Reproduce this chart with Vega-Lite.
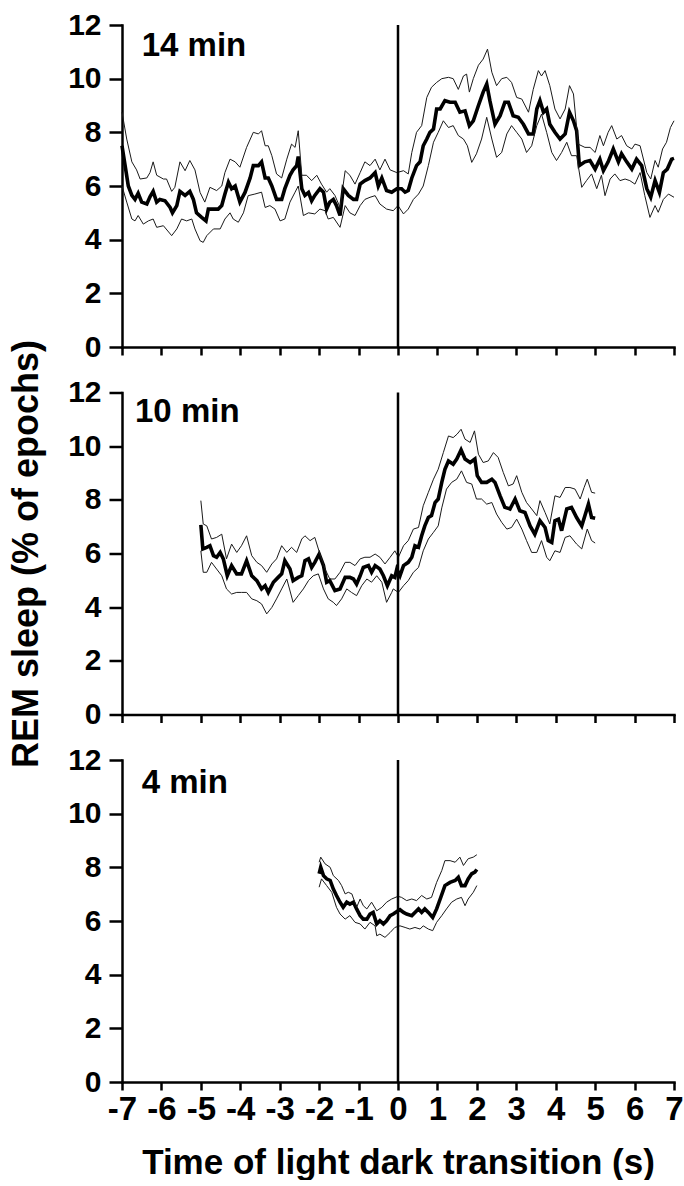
{
"$schema":"https://vega.github.io/schema/vega-lite/v6.json",
"padding":{"left":8,"top":10,"right":0,"bottom":0},
"bounds":"flush",
"spacing":45.5,
"config":{"view":{"stroke":null},"font":"Liberation Sans",
"axis":{"grid":false,"domainColor":"black","domainWidth":2.5,"domainCap":"square","tickColor":"black","tickWidth":2.5,"labelFont":"Liberation Sans","labelFontWeight":"bold","labelFontSize":30,"labelColor":"black","labelFlush":false,"labelOverlap":false,"labelBound":false,"titleFont":"Liberation Sans","titleFontWeight":"bold","titleFontSize":35,"titleColor":"black"},
"axisY":{"tickSize":13,"labelPadding":8},
"axisX":{"tickSize":8,"labelPadding":3,"labelFontSize":33}},
"datasets":{
"p1":[
{"s":"m","t":-7.00,"v":7.5},{"s":"m","t":-6.92,"v":6.75},{"s":"m","t":-6.84,"v":6.0},{"s":"m","t":-6.75,"v":5.65},{"s":"m","t":-6.67,"v":5.5},{"s":"m","t":-6.59,"v":5.73},{"s":"m","t":-6.50,"v":5.4},{"s":"m","t":-6.37,"v":5.33},{"s":"m","t":-6.29,"v":5.6},{"s":"m","t":-6.21,"v":5.8},{"s":"m","t":-6.12,"v":5.4},{"s":"m","t":-6.04,"v":5.5},{"s":"m","t":-5.91,"v":5.45},{"s":"m","t":-5.78,"v":5.2},{"s":"m","t":-5.72,"v":5.0},{"s":"m","t":-5.61,"v":5.27},{"s":"m","t":-5.53,"v":5.8},{"s":"m","t":-5.40,"v":5.65},{"s":"m","t":-5.28,"v":5.8},{"s":"m","t":-5.19,"v":5.5},{"s":"m","t":-5.11,"v":5.0},{"s":"m","t":-4.98,"v":4.83},{"s":"m","t":-4.87,"v":4.7},{"s":"m","t":-4.81,"v":5.14},{"s":"m","t":-4.68,"v":5.14},{"s":"m","t":-4.56,"v":5.14},{"s":"m","t":-4.47,"v":5.27},{"s":"m","t":-4.39,"v":5.7},{"s":"m","t":-4.30,"v":6.14},{"s":"m","t":-4.22,"v":5.9},{"s":"m","t":-4.13,"v":6.0},{"s":"m","t":-4.01,"v":5.4},{"s":"m","t":-3.88,"v":5.76},{"s":"m","t":-3.75,"v":6.3},{"s":"m","t":-3.67,"v":6.76},{"s":"m","t":-3.54,"v":6.76},{"s":"m","t":-3.46,"v":6.9},{"s":"m","t":-3.37,"v":6.3},{"s":"m","t":-3.29,"v":6.3},{"s":"m","t":-3.20,"v":6.0},{"s":"m","t":-3.08,"v":5.5},{"s":"m","t":-2.95,"v":5.5},{"s":"m","t":-2.87,"v":5.9},{"s":"m","t":-2.74,"v":6.4},{"s":"m","t":-2.66,"v":6.6},{"s":"m","t":-2.57,"v":6.76},{"s":"m","t":-2.53,"v":7.1},{"s":"m","t":-2.44,"v":5.9},{"s":"m","t":-2.36,"v":5.65},{"s":"m","t":-2.27,"v":5.76},{"s":"m","t":-2.19,"v":5.45},{"s":"m","t":-2.11,"v":5.65},{"s":"m","t":-1.98,"v":5.9},{"s":"m","t":-1.89,"v":5.77},{"s":"m","t":-1.81,"v":5.14},{"s":"m","t":-1.73,"v":5.4},{"s":"m","t":-1.64,"v":5.5},{"s":"m","t":-1.56,"v":5.27},{"s":"m","t":-1.47,"v":4.9},{"s":"m","t":-1.39,"v":5.9},{"s":"m","t":-1.26,"v":5.65},{"s":"m","t":-1.13,"v":5.5},{"s":"m","t":-1.05,"v":5.5},{"s":"m","t":-0.96,"v":6.07},{"s":"m","t":-0.84,"v":6.2},{"s":"m","t":-0.71,"v":6.3},{"s":"m","t":-0.58,"v":6.5},{"s":"m","t":-0.50,"v":6.0},{"s":"m","t":-0.41,"v":6.3},{"s":"m","t":-0.29,"v":5.83},{"s":"m","t":-0.16,"v":5.77},{"s":"m","t":-0.03,"v":5.9},{"s":"m","t":0.09,"v":5.9},{"s":"m","t":0.18,"v":5.77},{"s":"m","t":0.26,"v":5.83},{"s":"m","t":0.35,"v":6.3},{"s":"m","t":0.47,"v":6.76},{"s":"m","t":0.56,"v":6.9},{"s":"m","t":0.64,"v":7.5},{"s":"m","t":0.73,"v":7.75},{"s":"m","t":0.81,"v":8.0},{"s":"m","t":0.90,"v":8.12},{"s":"m","t":0.98,"v":8.87},{"s":"m","t":1.07,"v":8.87},{"s":"m","t":1.19,"v":9.18},{"s":"m","t":1.32,"v":9.12},{"s":"m","t":1.45,"v":9.12},{"s":"m","t":1.57,"v":8.75},{"s":"m","t":1.70,"v":8.8},{"s":"m","t":1.81,"v":8.25},{"s":"m","t":1.91,"v":8.43},{"s":"m","t":2.04,"v":9.0},{"s":"m","t":2.16,"v":9.5},{"s":"m","t":2.25,"v":9.8},{"s":"m","t":2.33,"v":9.18},{"s":"m","t":2.46,"v":8.3},{"s":"m","t":2.59,"v":8.62},{"s":"m","t":2.71,"v":9.12},{"s":"m","t":2.80,"v":9.12},{"s":"m","t":2.92,"v":8.62},{"s":"m","t":3.05,"v":8.56},{"s":"m","t":3.18,"v":8.3},{"s":"m","t":3.31,"v":7.94},{"s":"m","t":3.43,"v":7.94},{"s":"m","t":3.52,"v":8.87},{"s":"m","t":3.60,"v":9.18},{"s":"m","t":3.69,"v":8.75},{"s":"m","t":3.77,"v":8.87},{"s":"m","t":3.85,"v":8.3},{"s":"m","t":3.98,"v":8.0},{"s":"m","t":4.11,"v":7.75},{"s":"m","t":4.24,"v":7.94},{"s":"m","t":4.35,"v":8.75},{"s":"m","t":4.45,"v":8.43},{"s":"m","t":4.53,"v":8.06},{"s":"m","t":4.60,"v":6.76},{"s":"m","t":4.74,"v":6.9},{"s":"m","t":4.87,"v":6.95},{"s":"m","t":5.00,"v":6.63},{"s":"m","t":5.12,"v":7.0},{"s":"m","t":5.21,"v":6.57},{"s":"m","t":5.33,"v":6.9},{"s":"m","t":5.46,"v":7.38},{"s":"m","t":5.59,"v":6.9},{"s":"m","t":5.67,"v":7.2},{"s":"m","t":5.80,"v":6.9},{"s":"m","t":5.93,"v":6.63},{"s":"m","t":6.05,"v":7.0},{"s":"m","t":6.18,"v":6.76},{"s":"m","t":6.31,"v":5.9},{"s":"m","t":6.41,"v":5.58},{"s":"m","t":6.52,"v":6.2},{"s":"m","t":6.63,"v":5.76},{"s":"m","t":6.73,"v":6.5},{"s":"m","t":6.83,"v":6.63},{"s":"m","t":6.94,"v":7.0},{"s":"m","t":7.00,"v":7.03},
{"s":"u","t":-7.00,"v":8.75},{"s":"u","t":-6.88,"v":7.75},{"s":"u","t":-6.75,"v":6.9},{"s":"u","t":-6.63,"v":6.6},{"s":"u","t":-6.54,"v":6.26},{"s":"u","t":-6.37,"v":6.3},{"s":"u","t":-6.29,"v":6.5},{"s":"u","t":-6.21,"v":6.9},{"s":"u","t":-6.12,"v":6.4},{"s":"u","t":-5.95,"v":6.26},{"s":"u","t":-5.87,"v":6.26},{"s":"u","t":-5.74,"v":5.8},{"s":"u","t":-5.66,"v":5.95},{"s":"u","t":-5.53,"v":6.9},{"s":"u","t":-5.40,"v":6.57},{"s":"u","t":-5.28,"v":6.95},{"s":"u","t":-5.15,"v":6.6},{"s":"u","t":-5.02,"v":5.76},{"s":"u","t":-4.90,"v":5.4},{"s":"u","t":-4.77,"v":5.95},{"s":"u","t":-4.60,"v":5.83},{"s":"u","t":-4.47,"v":6.0},{"s":"u","t":-4.39,"v":6.5},{"s":"u","t":-4.26,"v":7.0},{"s":"u","t":-4.13,"v":6.9},{"s":"u","t":-4.01,"v":6.7},{"s":"u","t":-3.84,"v":7.44},{"s":"u","t":-3.67,"v":8.0},{"s":"u","t":-3.54,"v":7.94},{"s":"u","t":-3.46,"v":8.06},{"s":"u","t":-3.37,"v":7.5},{"s":"u","t":-3.29,"v":7.5},{"s":"u","t":-3.20,"v":7.13},{"s":"u","t":-3.08,"v":6.45},{"s":"u","t":-2.95,"v":6.3},{"s":"u","t":-2.82,"v":7.0},{"s":"u","t":-2.70,"v":7.56},{"s":"u","t":-2.61,"v":7.44},{"s":"u","t":-2.53,"v":8.06},{"s":"u","t":-2.44,"v":6.4},{"s":"u","t":-2.32,"v":6.4},{"s":"u","t":-2.19,"v":6.2},{"s":"u","t":-2.06,"v":6.4},{"s":"u","t":-1.94,"v":6.07},{"s":"u","t":-1.81,"v":5.77},{"s":"u","t":-1.73,"v":5.9},{"s":"u","t":-1.60,"v":5.65},{"s":"u","t":-1.47,"v":5.2},{"s":"u","t":-1.34,"v":6.57},{"s":"u","t":-1.22,"v":6.4},{"s":"u","t":-1.09,"v":6.07},{"s":"u","t":-0.96,"v":6.5},{"s":"u","t":-0.84,"v":6.9},{"s":"u","t":-0.71,"v":6.76},{"s":"u","t":-0.58,"v":7.0},{"s":"u","t":-0.46,"v":6.6},{"s":"u","t":-0.33,"v":7.0},{"s":"u","t":-0.20,"v":6.6},{"s":"u","t":-0.03,"v":6.5},{"s":"u","t":0.14,"v":6.57},{"s":"u","t":0.26,"v":6.45},{"s":"u","t":0.35,"v":7.25},{"s":"u","t":0.47,"v":8.0},{"s":"u","t":0.60,"v":8.25},{"s":"u","t":0.73,"v":9.3},{"s":"u","t":0.85,"v":9.68},{"s":"u","t":0.98,"v":9.86},{"s":"u","t":1.11,"v":10.0},{"s":"u","t":1.28,"v":10.05},{"s":"u","t":1.40,"v":10.0},{"s":"u","t":1.53,"v":9.6},{"s":"u","t":1.66,"v":10.1},{"s":"u","t":1.74,"v":10.17},{"s":"u","t":1.81,"v":9.5},{"s":"u","t":1.91,"v":10.0},{"s":"u","t":2.04,"v":10.5},{"s":"u","t":2.16,"v":10.73},{"s":"u","t":2.27,"v":11.1},{"s":"u","t":2.38,"v":10.24},{"s":"u","t":2.50,"v":9.74},{"s":"u","t":2.63,"v":10.0},{"s":"u","t":2.76,"v":10.05},{"s":"u","t":2.88,"v":9.86},{"s":"u","t":3.01,"v":9.3},{"s":"u","t":3.14,"v":9.24},{"s":"u","t":3.31,"v":8.75},{"s":"u","t":3.43,"v":9.6},{"s":"u","t":3.56,"v":10.3},{"s":"u","t":3.64,"v":10.1},{"s":"u","t":3.73,"v":10.3},{"s":"u","t":3.85,"v":9.74},{"s":"u","t":3.98,"v":8.87},{"s":"u","t":4.11,"v":8.5},{"s":"u","t":4.24,"v":8.87},{"s":"u","t":4.35,"v":9.74},{"s":"u","t":4.45,"v":9.43},{"s":"u","t":4.57,"v":7.56},{"s":"u","t":4.74,"v":7.44},{"s":"u","t":4.87,"v":7.44},{"s":"u","t":5.00,"v":7.25},{"s":"u","t":5.12,"v":7.88},{"s":"u","t":5.21,"v":7.5},{"s":"u","t":5.33,"v":8.0},{"s":"u","t":5.42,"v":8.25},{"s":"u","t":5.55,"v":7.75},{"s":"u","t":5.67,"v":7.88},{"s":"u","t":5.80,"v":7.5},{"s":"u","t":5.93,"v":7.38},{"s":"u","t":6.01,"v":7.56},{"s":"u","t":6.14,"v":7.5},{"s":"u","t":6.31,"v":6.5},{"s":"u","t":6.41,"v":6.26},{"s":"u","t":6.52,"v":6.95},{"s":"u","t":6.60,"v":6.7},{"s":"u","t":6.71,"v":7.38},{"s":"u","t":6.81,"v":7.63},{"s":"u","t":6.91,"v":8.18},{"s":"u","t":7.00,"v":8.43},
{"s":"l","t":-7.00,"v":6.0},{"s":"l","t":-6.88,"v":5.4},{"s":"l","t":-6.75,"v":4.77},{"s":"l","t":-6.67,"v":4.7},{"s":"l","t":-6.59,"v":4.9},{"s":"l","t":-6.46,"v":4.58},{"s":"l","t":-6.33,"v":4.7},{"s":"l","t":-6.21,"v":4.77},{"s":"l","t":-6.12,"v":4.46},{"s":"l","t":-5.95,"v":4.52},{"s":"l","t":-5.74,"v":4.15},{"s":"l","t":-5.61,"v":4.4},{"s":"l","t":-5.49,"v":4.77},{"s":"l","t":-5.36,"v":4.7},{"s":"l","t":-5.23,"v":4.77},{"s":"l","t":-5.15,"v":4.4},{"s":"l","t":-5.02,"v":3.96},{"s":"l","t":-4.94,"v":3.9},{"s":"l","t":-4.85,"v":4.15},{"s":"l","t":-4.68,"v":4.4},{"s":"l","t":-4.51,"v":4.4},{"s":"l","t":-4.39,"v":4.77},{"s":"l","t":-4.26,"v":5.0},{"s":"l","t":-4.18,"v":4.77},{"s":"l","t":-4.05,"v":4.65},{"s":"l","t":-3.92,"v":5.0},{"s":"l","t":-3.80,"v":5.64},{"s":"l","t":-3.63,"v":5.7},{"s":"l","t":-3.46,"v":5.77},{"s":"l","t":-3.37,"v":5.2},{"s":"l","t":-3.25,"v":5.27},{"s":"l","t":-3.12,"v":5.14},{"s":"l","t":-2.99,"v":4.7},{"s":"l","t":-2.87,"v":4.77},{"s":"l","t":-2.74,"v":5.4},{"s":"l","t":-2.61,"v":5.77},{"s":"l","t":-2.53,"v":6.0},{"s":"l","t":-2.40,"v":4.9},{"s":"l","t":-2.27,"v":5.0},{"s":"l","t":-2.11,"v":4.96},{"s":"l","t":-1.98,"v":5.14},{"s":"l","t":-1.85,"v":5.08},{"s":"l","t":-1.77,"v":4.77},{"s":"l","t":-1.64,"v":4.83},{"s":"l","t":-1.47,"v":4.46},{"s":"l","t":-1.34,"v":5.27},{"s":"l","t":-1.22,"v":5.0},{"s":"l","t":-1.09,"v":4.9},{"s":"l","t":-0.96,"v":5.27},{"s":"l","t":-0.84,"v":5.5},{"s":"l","t":-0.71,"v":5.58},{"s":"l","t":-0.58,"v":5.64},{"s":"l","t":-0.46,"v":5.33},{"s":"l","t":-0.29,"v":5.14},{"s":"l","t":-0.12,"v":5.08},{"s":"l","t":0.00,"v":5.27},{"s":"l","t":0.14,"v":4.96},{"s":"l","t":0.26,"v":5.14},{"s":"l","t":0.39,"v":5.5},{"s":"l","t":0.52,"v":5.7},{"s":"l","t":0.64,"v":6.0},{"s":"l","t":0.77,"v":6.76},{"s":"l","t":0.90,"v":7.63},{"s":"l","t":1.02,"v":8.0},{"s":"l","t":1.15,"v":8.43},{"s":"l","t":1.28,"v":8.18},{"s":"l","t":1.40,"v":8.25},{"s":"l","t":1.53,"v":7.88},{"s":"l","t":1.66,"v":7.75},{"s":"l","t":1.76,"v":7.5},{"s":"l","t":1.87,"v":6.88},{"s":"l","t":1.99,"v":7.2},{"s":"l","t":2.12,"v":7.75},{"s":"l","t":2.25,"v":8.56},{"s":"l","t":2.38,"v":7.75},{"s":"l","t":2.50,"v":7.07},{"s":"l","t":2.63,"v":7.25},{"s":"l","t":2.76,"v":7.94},{"s":"l","t":2.88,"v":8.25},{"s":"l","t":3.01,"v":8.0},{"s":"l","t":3.14,"v":7.75},{"s":"l","t":3.26,"v":7.25},{"s":"l","t":3.39,"v":7.5},{"s":"l","t":3.52,"v":8.25},{"s":"l","t":3.64,"v":8.68},{"s":"l","t":3.77,"v":8.0},{"s":"l","t":3.90,"v":7.25},{"s":"l","t":4.02,"v":6.95},{"s":"l","t":4.15,"v":7.25},{"s":"l","t":4.28,"v":7.63},{"s":"l","t":4.40,"v":7.13},{"s":"l","t":4.53,"v":7.13},{"s":"l","t":4.66,"v":5.95},{"s":"l","t":4.78,"v":6.2},{"s":"l","t":4.91,"v":6.45},{"s":"l","t":5.04,"v":5.9},{"s":"l","t":5.16,"v":6.4},{"s":"l","t":5.25,"v":5.64},{"s":"l","t":5.38,"v":6.26},{"s":"l","t":5.50,"v":6.45},{"s":"l","t":5.63,"v":6.2},{"s":"l","t":5.76,"v":6.26},{"s":"l","t":5.88,"v":6.2},{"s":"l","t":6.01,"v":6.07},{"s":"l","t":6.14,"v":6.5},{"s":"l","t":6.26,"v":5.64},{"s":"l","t":6.39,"v":4.83},{"s":"l","t":6.52,"v":5.27},{"s":"l","t":6.60,"v":5.02},{"s":"l","t":6.73,"v":5.5},{"s":"l","t":6.86,"v":5.7},{"s":"l","t":7.00,"v":5.58}
],
"p2":[
{"s":"m","t":-5.00,"v":7.07},{"s":"m","t":-4.95,"v":6.17},{"s":"m","t":-4.85,"v":6.23},{"s":"m","t":-4.77,"v":6.29},{"s":"m","t":-4.68,"v":5.92},{"s":"m","t":-4.60,"v":5.86},{"s":"m","t":-4.51,"v":6.04},{"s":"m","t":-4.43,"v":5.8},{"s":"m","t":-4.33,"v":5.17},{"s":"m","t":-4.22,"v":5.55},{"s":"m","t":-4.09,"v":5.24},{"s":"m","t":-3.97,"v":5.24},{"s":"m","t":-3.84,"v":5.73},{"s":"m","t":-3.71,"v":5.17},{"s":"m","t":-3.58,"v":4.99},{"s":"m","t":-3.46,"v":4.68},{"s":"m","t":-3.37,"v":4.8},{"s":"m","t":-3.29,"v":4.55},{"s":"m","t":-3.16,"v":4.93},{"s":"m","t":-3.04,"v":5.11},{"s":"m","t":-2.95,"v":5.24},{"s":"m","t":-2.87,"v":5.73},{"s":"m","t":-2.74,"v":5.42},{"s":"m","t":-2.66,"v":4.99},{"s":"m","t":-2.53,"v":5.11},{"s":"m","t":-2.44,"v":5.17},{"s":"m","t":-2.36,"v":5.73},{"s":"m","t":-2.27,"v":5.8},{"s":"m","t":-2.19,"v":5.48},{"s":"m","t":-2.11,"v":5.67},{"s":"m","t":-2.00,"v":5.98},{"s":"m","t":-1.89,"v":5.55},{"s":"m","t":-1.81,"v":4.93},{"s":"m","t":-1.73,"v":4.99},{"s":"m","t":-1.60,"v":4.62},{"s":"m","t":-1.47,"v":4.68},{"s":"m","t":-1.34,"v":5.11},{"s":"m","t":-1.22,"v":5.11},{"s":"m","t":-1.13,"v":5.05},{"s":"m","t":-1.05,"v":4.86},{"s":"m","t":-0.96,"v":5.17},{"s":"m","t":-0.88,"v":5.48},{"s":"m","t":-0.75,"v":5.55},{"s":"m","t":-0.67,"v":5.3},{"s":"m","t":-0.58,"v":5.55},{"s":"m","t":-0.46,"v":5.42},{"s":"m","t":-0.37,"v":5.17},{"s":"m","t":-0.27,"v":4.8},{"s":"m","t":-0.16,"v":5.17},{"s":"m","t":-0.08,"v":5.11},{"s":"m","t":-0.03,"v":5.42},{"s":"m","t":0.05,"v":5.17},{"s":"m","t":0.14,"v":5.55},{"s":"m","t":0.26,"v":5.67},{"s":"m","t":0.35,"v":5.86},{"s":"m","t":0.43,"v":6.29},{"s":"m","t":0.52,"v":6.23},{"s":"m","t":0.60,"v":6.66},{"s":"m","t":0.68,"v":7.03},{"s":"m","t":0.77,"v":7.34},{"s":"m","t":0.85,"v":7.41},{"s":"m","t":0.94,"v":7.9},{"s":"m","t":1.02,"v":8.03},{"s":"m","t":1.11,"v":8.65},{"s":"m","t":1.19,"v":9.14},{"s":"m","t":1.28,"v":9.45},{"s":"m","t":1.40,"v":9.33},{"s":"m","t":1.49,"v":9.52},{"s":"m","t":1.60,"v":9.86},{"s":"m","t":1.70,"v":9.52},{"s":"m","t":1.83,"v":9.39},{"s":"m","t":1.95,"v":9.52},{"s":"m","t":2.01,"v":8.9},{"s":"m","t":2.12,"v":8.65},{"s":"m","t":2.25,"v":8.65},{"s":"m","t":2.38,"v":8.77},{"s":"m","t":2.46,"v":8.65},{"s":"m","t":2.59,"v":8.15},{"s":"m","t":2.71,"v":7.72},{"s":"m","t":2.84,"v":7.66},{"s":"m","t":2.97,"v":8.03},{"s":"m","t":3.09,"v":7.59},{"s":"m","t":3.22,"v":7.53},{"s":"m","t":3.35,"v":7.03},{"s":"m","t":3.47,"v":6.72},{"s":"m","t":3.60,"v":7.22},{"s":"m","t":3.73,"v":6.97},{"s":"m","t":3.81,"v":6.48},{"s":"m","t":3.90,"v":6.41},{"s":"m","t":3.98,"v":7.22},{"s":"m","t":4.07,"v":7.28},{"s":"m","t":4.15,"v":6.85},{"s":"m","t":4.28,"v":7.66},{"s":"m","t":4.40,"v":7.72},{"s":"m","t":4.53,"v":7.34},{"s":"m","t":4.66,"v":7.03},{"s":"m","t":4.74,"v":7.41},{"s":"m","t":4.83,"v":7.84},{"s":"m","t":4.91,"v":7.34},{"s":"m","t":5.00,"v":7.31},
{"s":"u","t":-5.00,"v":7.97},{"s":"u","t":-4.94,"v":7.1},{"s":"u","t":-4.85,"v":7.03},{"s":"u","t":-4.73,"v":6.54},{"s":"u","t":-4.60,"v":6.6},{"s":"u","t":-4.47,"v":6.72},{"s":"u","t":-4.35,"v":5.8},{"s":"u","t":-4.22,"v":6.35},{"s":"u","t":-4.09,"v":6.04},{"s":"u","t":-3.97,"v":6.29},{"s":"u","t":-3.84,"v":6.66},{"s":"u","t":-3.71,"v":5.92},{"s":"u","t":-3.58,"v":5.67},{"s":"u","t":-3.46,"v":5.55},{"s":"u","t":-3.33,"v":5.3},{"s":"u","t":-3.20,"v":5.61},{"s":"u","t":-3.08,"v":5.8},{"s":"u","t":-2.95,"v":6.29},{"s":"u","t":-2.82,"v":6.04},{"s":"u","t":-2.70,"v":6.23},{"s":"u","t":-2.57,"v":6.04},{"s":"u","t":-2.44,"v":6.54},{"s":"u","t":-2.36,"v":6.66},{"s":"u","t":-2.23,"v":6.48},{"s":"u","t":-2.11,"v":6.6},{"s":"u","t":-1.98,"v":5.98},{"s":"u","t":-1.85,"v":5.42},{"s":"u","t":-1.73,"v":5.05},{"s":"u","t":-1.60,"v":5.05},{"s":"u","t":-1.47,"v":5.3},{"s":"u","t":-1.34,"v":5.67},{"s":"u","t":-1.22,"v":5.67},{"s":"u","t":-1.09,"v":5.55},{"s":"u","t":-0.96,"v":5.8},{"s":"u","t":-0.84,"v":5.86},{"s":"u","t":-0.71,"v":5.86},{"s":"u","t":-0.58,"v":5.98},{"s":"u","t":-0.46,"v":5.86},{"s":"u","t":-0.33,"v":5.61},{"s":"u","t":-0.20,"v":5.86},{"s":"u","t":-0.08,"v":6.1},{"s":"u","t":0.01,"v":5.86},{"s":"u","t":0.14,"v":6.29},{"s":"u","t":0.26,"v":6.48},{"s":"u","t":0.39,"v":6.91},{"s":"u","t":0.52,"v":6.97},{"s":"u","t":0.64,"v":7.78},{"s":"u","t":0.77,"v":8.28},{"s":"u","t":0.90,"v":8.77},{"s":"u","t":1.02,"v":9.14},{"s":"u","t":1.15,"v":9.76},{"s":"u","t":1.28,"v":10.38},{"s":"u","t":1.40,"v":10.32},{"s":"u","t":1.50,"v":10.45},{"s":"u","t":1.60,"v":10.63},{"s":"u","t":1.70,"v":10.26},{"s":"u","t":1.83,"v":10.14},{"s":"u","t":1.94,"v":10.57},{"s":"u","t":2.04,"v":9.7},{"s":"u","t":2.16,"v":9.39},{"s":"u","t":2.29,"v":9.45},{"s":"u","t":2.42,"v":9.76},{"s":"u","t":2.54,"v":9.58},{"s":"u","t":2.67,"v":9.02},{"s":"u","t":2.80,"v":8.52},{"s":"u","t":2.92,"v":8.59},{"s":"u","t":3.01,"v":8.9},{"s":"u","t":3.14,"v":8.28},{"s":"u","t":3.26,"v":7.9},{"s":"u","t":3.39,"v":7.66},{"s":"u","t":3.52,"v":7.41},{"s":"u","t":3.60,"v":7.97},{"s":"u","t":3.73,"v":7.53},{"s":"u","t":3.85,"v":7.1},{"s":"u","t":3.98,"v":8.15},{"s":"u","t":4.11,"v":8.09},{"s":"u","t":4.24,"v":8.46},{"s":"u","t":4.36,"v":8.46},{"s":"u","t":4.49,"v":8.4},{"s":"u","t":4.62,"v":8.03},{"s":"u","t":4.72,"v":8.46},{"s":"u","t":4.80,"v":8.77},{"s":"u","t":4.91,"v":8.28},{"s":"u","t":5.00,"v":8.25},
{"s":"l","t":-5.00,"v":6.1},{"s":"l","t":-4.94,"v":5.3},{"s":"l","t":-4.85,"v":5.3},{"s":"l","t":-4.73,"v":5.67},{"s":"l","t":-4.60,"v":5.42},{"s":"l","t":-4.47,"v":5.17},{"s":"l","t":-4.35,"v":4.68},{"s":"l","t":-4.22,"v":4.49},{"s":"l","t":-4.09,"v":4.55},{"s":"l","t":-3.97,"v":4.55},{"s":"l","t":-3.84,"v":4.55},{"s":"l","t":-3.71,"v":4.31},{"s":"l","t":-3.58,"v":4.24},{"s":"l","t":-3.46,"v":4.12},{"s":"l","t":-3.33,"v":3.75},{"s":"l","t":-3.20,"v":3.99},{"s":"l","t":-3.08,"v":4.31},{"s":"l","t":-2.95,"v":4.68},{"s":"l","t":-2.82,"v":5.05},{"s":"l","t":-2.66,"v":4.18},{"s":"l","t":-2.53,"v":4.43},{"s":"l","t":-2.40,"v":4.68},{"s":"l","t":-2.27,"v":4.99},{"s":"l","t":-2.15,"v":5.17},{"s":"l","t":-2.02,"v":5.24},{"s":"l","t":-1.89,"v":4.68},{"s":"l","t":-1.77,"v":4.31},{"s":"l","t":-1.64,"v":4.18},{"s":"l","t":-1.56,"v":4.06},{"s":"l","t":-1.43,"v":4.31},{"s":"l","t":-1.30,"v":4.68},{"s":"l","t":-1.18,"v":4.55},{"s":"l","t":-1.05,"v":4.43},{"s":"l","t":-0.92,"v":4.8},{"s":"l","t":-0.79,"v":5.05},{"s":"l","t":-0.67,"v":4.93},{"s":"l","t":-0.54,"v":5.17},{"s":"l","t":-0.41,"v":4.93},{"s":"l","t":-0.29,"v":4.18},{"s":"l","t":-0.16,"v":4.55},{"s":"l","t":-0.12,"v":4.68},{"s":"l","t":0.01,"v":4.55},{"s":"l","t":0.14,"v":4.8},{"s":"l","t":0.26,"v":4.99},{"s":"l","t":0.39,"v":5.3},{"s":"l","t":0.52,"v":5.48},{"s":"l","t":0.64,"v":6.1},{"s":"l","t":0.77,"v":6.54},{"s":"l","t":0.90,"v":6.79},{"s":"l","t":1.02,"v":7.03},{"s":"l","t":1.11,"v":7.7},{"s":"l","t":1.23,"v":8.4},{"s":"l","t":1.36,"v":8.65},{"s":"l","t":1.49,"v":8.77},{"s":"l","t":1.61,"v":9.08},{"s":"l","t":1.74,"v":8.65},{"s":"l","t":1.87,"v":8.59},{"s":"l","t":1.99,"v":8.03},{"s":"l","t":2.12,"v":8.03},{"s":"l","t":2.25,"v":7.84},{"s":"l","t":2.38,"v":7.9},{"s":"l","t":2.50,"v":7.47},{"s":"l","t":2.63,"v":7.16},{"s":"l","t":2.76,"v":6.91},{"s":"l","t":2.88,"v":6.97},{"s":"l","t":3.01,"v":7.28},{"s":"l","t":3.14,"v":6.91},{"s":"l","t":3.26,"v":6.48},{"s":"l","t":3.39,"v":6.04},{"s":"l","t":3.52,"v":6.04},{"s":"l","t":3.64,"v":6.48},{"s":"l","t":3.77,"v":5.86},{"s":"l","t":3.85,"v":5.73},{"s":"l","t":3.98,"v":6.1},{"s":"l","t":4.11,"v":6.04},{"s":"l","t":4.24,"v":6.6},{"s":"l","t":4.36,"v":6.66},{"s":"l","t":4.53,"v":6.35},{"s":"l","t":4.66,"v":6.17},{"s":"l","t":4.80,"v":6.91},{"s":"l","t":4.91,"v":6.48},{"s":"l","t":5.00,"v":6.39}
],
"p3":[
{"s":"m","t":-2.00,"v":7.76},{"s":"m","t":-1.96,"v":8.0},{"s":"m","t":-1.89,"v":7.69},{"s":"m","t":-1.81,"v":7.57},{"s":"m","t":-1.72,"v":7.51},{"s":"m","t":-1.64,"v":7.19},{"s":"m","t":-1.56,"v":6.95},{"s":"m","t":-1.47,"v":6.7},{"s":"m","t":-1.39,"v":6.51},{"s":"m","t":-1.30,"v":6.7},{"s":"m","t":-1.22,"v":6.63},{"s":"m","t":-1.13,"v":6.7},{"s":"m","t":-1.05,"v":6.45},{"s":"m","t":-0.96,"v":6.2},{"s":"m","t":-0.88,"v":6.07},{"s":"m","t":-0.79,"v":6.07},{"s":"m","t":-0.71,"v":6.26},{"s":"m","t":-0.63,"v":6.32},{"s":"m","t":-0.54,"v":5.89},{"s":"m","t":-0.46,"v":6.01},{"s":"m","t":-0.37,"v":5.89},{"s":"m","t":-0.29,"v":6.01},{"s":"m","t":-0.20,"v":6.2},{"s":"m","t":-0.12,"v":6.26},{"s":"m","t":0.00,"v":6.38},{"s":"m","t":0.05,"v":6.42},{"s":"m","t":0.14,"v":6.32},{"s":"m","t":0.22,"v":6.26},{"s":"m","t":0.35,"v":6.2},{"s":"m","t":0.43,"v":6.32},{"s":"m","t":0.52,"v":6.45},{"s":"m","t":0.60,"v":6.32},{"s":"m","t":0.68,"v":6.45},{"s":"m","t":0.77,"v":6.32},{"s":"m","t":0.88,"v":6.13},{"s":"m","t":0.98,"v":6.45},{"s":"m","t":1.07,"v":6.82},{"s":"m","t":1.19,"v":7.32},{"s":"m","t":1.32,"v":7.44},{"s":"m","t":1.45,"v":7.51},{"s":"m","t":1.53,"v":7.63},{"s":"m","t":1.61,"v":7.32},{"s":"m","t":1.70,"v":7.32},{"s":"m","t":1.78,"v":7.57},{"s":"m","t":1.87,"v":7.76},{"s":"m","t":1.95,"v":7.82},{"s":"m","t":2.00,"v":7.92},
{"s":"u","t":-2.00,"v":8.19},{"s":"u","t":-1.96,"v":8.38},{"s":"u","t":-1.85,"v":8.13},{"s":"u","t":-1.72,"v":8.0},{"s":"u","t":-1.64,"v":7.69},{"s":"u","t":-1.51,"v":7.51},{"s":"u","t":-1.43,"v":7.32},{"s":"u","t":-1.34,"v":7.01},{"s":"u","t":-1.26,"v":7.07},{"s":"u","t":-1.17,"v":7.01},{"s":"u","t":-1.05,"v":6.51},{"s":"u","t":-0.96,"v":6.82},{"s":"u","t":-0.88,"v":6.57},{"s":"u","t":-0.79,"v":6.45},{"s":"u","t":-0.67,"v":6.7},{"s":"u","t":-0.54,"v":6.38},{"s":"u","t":-0.41,"v":6.51},{"s":"u","t":-0.29,"v":6.7},{"s":"u","t":-0.16,"v":6.82},{"s":"u","t":0.00,"v":6.92},{"s":"u","t":0.09,"v":6.88},{"s":"u","t":0.22,"v":6.76},{"s":"u","t":0.35,"v":6.82},{"s":"u","t":0.47,"v":6.76},{"s":"u","t":0.60,"v":6.95},{"s":"u","t":0.73,"v":6.82},{"s":"u","t":0.85,"v":6.88},{"s":"u","t":0.98,"v":7.44},{"s":"u","t":1.11,"v":7.88},{"s":"u","t":1.19,"v":8.25},{"s":"u","t":1.32,"v":8.25},{"s":"u","t":1.45,"v":8.19},{"s":"u","t":1.57,"v":8.38},{"s":"u","t":1.66,"v":8.07},{"s":"u","t":1.78,"v":8.32},{"s":"u","t":1.91,"v":8.38},{"s":"u","t":2.00,"v":8.47},
{"s":"l","t":-2.00,"v":7.26},{"s":"l","t":-1.94,"v":7.57},{"s":"l","t":-1.81,"v":7.32},{"s":"l","t":-1.68,"v":7.07},{"s":"l","t":-1.56,"v":6.51},{"s":"l","t":-1.47,"v":6.26},{"s":"l","t":-1.34,"v":6.07},{"s":"l","t":-1.22,"v":6.2},{"s":"l","t":-1.09,"v":5.95},{"s":"l","t":-0.96,"v":5.89},{"s":"l","t":-0.84,"v":5.7},{"s":"l","t":-0.71,"v":5.95},{"s":"l","t":-0.58,"v":5.82},{"s":"l","t":-0.54,"v":5.45},{"s":"l","t":-0.46,"v":5.51},{"s":"l","t":-0.33,"v":5.39},{"s":"l","t":-0.20,"v":5.57},{"s":"l","t":-0.08,"v":5.76},{"s":"l","t":0.05,"v":5.82},{"s":"l","t":0.18,"v":5.76},{"s":"l","t":0.30,"v":5.7},{"s":"l","t":0.43,"v":5.76},{"s":"l","t":0.56,"v":5.7},{"s":"l","t":0.64,"v":5.82},{"s":"l","t":0.77,"v":5.7},{"s":"l","t":0.88,"v":5.64},{"s":"l","t":0.98,"v":5.95},{"s":"l","t":1.11,"v":6.2},{"s":"l","t":1.23,"v":6.45},{"s":"l","t":1.36,"v":6.7},{"s":"l","t":1.49,"v":6.82},{"s":"l","t":1.61,"v":6.88},{"s":"l","t":1.70,"v":6.57},{"s":"l","t":1.78,"v":6.82},{"s":"l","t":1.91,"v":7.07},{"s":"l","t":2.00,"v":7.32}
]
},
"vconcat":[
{"width":552,"height":322,"layer":[
{"data":{"name":"p1"},"mark":{"type":"line"},"encoding":{
"x":{"field":"t","type":"quantitative","scale":{"domain":[-7,7],"nice":false,"zero":false},"axis":{"values":[-7,-6,-5,-4,-3,-2,-1,0,1,2,3,4,5,6,7],"labels":false,"title":null}},
"y":{"field":"v","type":"quantitative","scale":{"domain":[0,12],"nice":false,"zero":false},"axis":{"values":[0,2,4,6,8,10,12],"labelOverlap":false,"title":null}},
"detail":{"field":"s","type":"nominal"},
"color":{"field":"s","type":"nominal","scale":{"type":"ordinal","domain":["m","u","l"],"range":["#000000","#1a1a1a","#1a1a1a"]},"legend":null},
"strokeWidth":{"field":"s","type":"nominal","scale":{"type":"ordinal","domain":["m","u","l"],"range":[3.6,1,1]},"legend":null}}},
{"data":{"values":[{}]},"mark":{"type":"rule","color":"black","strokeWidth":2.5},"encoding":{
"x":{"datum":0,"type":"quantitative","axis":{"values":[-7,-6,-5,-4,-3,-2,-1,0,1,2,3,4,5,6,7],"labels":false,"title":null}},
"y":{"datum":0,"type":"quantitative","axis":{"values":[0,2,4,6,8,10,12],"labelOverlap":false,"title":null}},
"y2":{"datum":12}}},
{"data":{"values":[{}]},"mark":{"type":"text","align":"left","baseline":"alphabetic","font":"Liberation Sans","fontSize":33,"fontWeight":"bold","color":"black"},"encoding":{
"x":{"datum":-6.5,"type":"quantitative","axis":{"values":[-7,-6,-5,-4,-3,-2,-1,0,1,2,3,4,5,6,7],"labels":false,"title":null}},
"y":{"datum":10.85,"type":"quantitative","axis":{"values":[0,2,4,6,8,10,12],"labelOverlap":false,"title":null}},
"text":{"value":"14 min"}}}
]},
{"width":552,"height":322,"layer":[
{"data":{"name":"p2"},"mark":{"type":"line"},"encoding":{
"x":{"field":"t","type":"quantitative","scale":{"domain":[-7,7],"nice":false,"zero":false},"axis":{"values":[-7,-6,-5,-4,-3,-2,-1,0,1,2,3,4,5,6,7],"labels":false,"title":null}},
"y":{"field":"v","type":"quantitative","scale":{"domain":[0,12],"nice":false,"zero":false},"axis":{"values":[0,2,4,6,8,10,12],"labelOverlap":false,"title":"REM sleep (% of epochs)","titleFontSize":36,"titlePadding":22}},
"detail":{"field":"s","type":"nominal"},
"color":{"field":"s","type":"nominal","scale":{"type":"ordinal","domain":["m","u","l"],"range":["#000000","#1a1a1a","#1a1a1a"]},"legend":null},
"strokeWidth":{"field":"s","type":"nominal","scale":{"type":"ordinal","domain":["m","u","l"],"range":[3.6,1,1]},"legend":null}}},
{"data":{"values":[{}]},"mark":{"type":"rule","color":"black","strokeWidth":2.5},"encoding":{
"x":{"datum":0,"type":"quantitative","axis":{"values":[-7,-6,-5,-4,-3,-2,-1,0,1,2,3,4,5,6,7],"labels":false,"title":null}},
"y":{"datum":0,"type":"quantitative","axis":{"values":[0,2,4,6,8,10,12],"labelOverlap":false,"title":"REM sleep (% of epochs)","titleFontSize":36,"titlePadding":22}},
"y2":{"datum":12}}},
{"data":{"values":[{}]},"mark":{"type":"text","align":"left","baseline":"alphabetic","font":"Liberation Sans","fontSize":33,"fontWeight":"bold","color":"black"},"encoding":{
"x":{"datum":-6.67,"type":"quantitative","axis":{"values":[-7,-6,-5,-4,-3,-2,-1,0,1,2,3,4,5,6,7],"labels":false,"title":null}},
"y":{"datum":10.89,"type":"quantitative","axis":{"values":[0,2,4,6,8,10,12],"labelOverlap":false,"title":"REM sleep (% of epochs)","titleFontSize":36,"titlePadding":22}},
"text":{"value":"10 min"}}}
]},
{"width":552,"height":322,"layer":[
{"data":{"name":"p3"},"mark":{"type":"line"},"encoding":{
"x":{"field":"t","type":"quantitative","scale":{"domain":[-7,7],"nice":false,"zero":false},"axis":{"values":[-7,-6,-5,-4,-3,-2,-1,0,1,2,3,4,5,6,7],"labelOverlap":false,"labelExpr":"'' + datum.value","title":"Time of light dark transition (s)","titlePadding":19}},
"y":{"field":"v","type":"quantitative","scale":{"domain":[0,12],"nice":false,"zero":false},"axis":{"values":[0,2,4,6,8,10,12],"labelOverlap":false,"title":null}},
"detail":{"field":"s","type":"nominal"},
"color":{"field":"s","type":"nominal","scale":{"type":"ordinal","domain":["m","u","l"],"range":["#000000","#1a1a1a","#1a1a1a"]},"legend":null},
"strokeWidth":{"field":"s","type":"nominal","scale":{"type":"ordinal","domain":["m","u","l"],"range":[3.6,1,1]},"legend":null}}},
{"data":{"values":[{}]},"mark":{"type":"rule","color":"black","strokeWidth":2.5},"encoding":{
"x":{"datum":0,"type":"quantitative","axis":{"values":[-7,-6,-5,-4,-3,-2,-1,0,1,2,3,4,5,6,7],"labelOverlap":false,"labelExpr":"'' + datum.value","title":"Time of light dark transition (s)","titlePadding":19}},
"y":{"datum":0,"type":"quantitative","axis":{"values":[0,2,4,6,8,10,12],"labelOverlap":false,"title":null}},
"y2":{"datum":12}}},
{"data":{"values":[{}]},"mark":{"type":"text","align":"left","baseline":"alphabetic","font":"Liberation Sans","fontSize":33,"fontWeight":"bold","color":"black"},"encoding":{
"x":{"datum":-6.5,"type":"quantitative","axis":{"values":[-7,-6,-5,-4,-3,-2,-1,0,1,2,3,4,5,6,7],"labelOverlap":false,"labelExpr":"'' + datum.value","title":"Time of light dark transition (s)","titlePadding":19}},
"y":{"datum":10.76,"type":"quantitative","axis":{"values":[0,2,4,6,8,10,12],"labelOverlap":false,"title":null}},
"text":{"value":"4 min"}}}
]}
]
}
